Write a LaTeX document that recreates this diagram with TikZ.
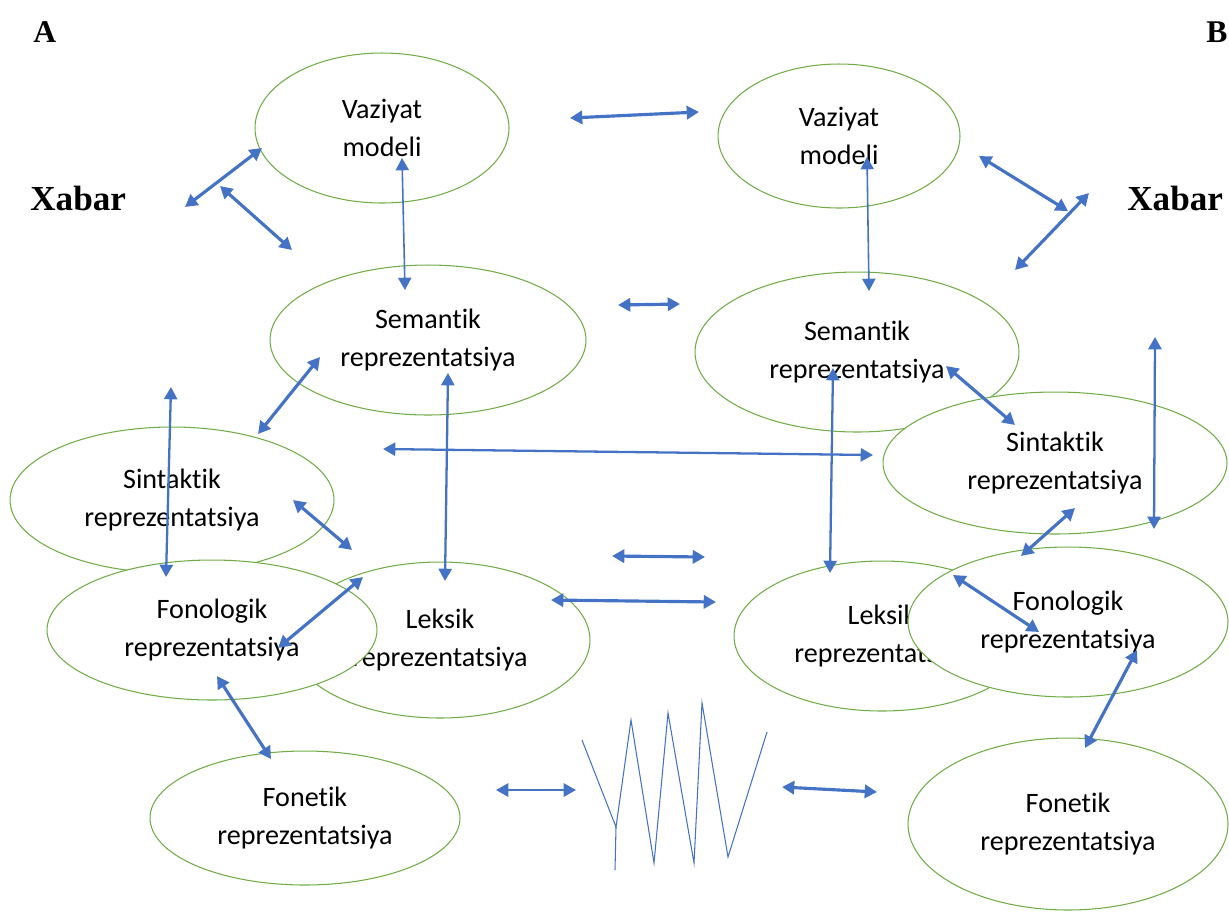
\documentclass[tikz,border=0pt]{standalone}
\usepackage{fontspec}
\setmainfont{Carlito}[Ligatures=NoCommon]
\newfontfamily\headfont{Liberation Serif}
\usetikzlibrary{arrows.meta,shapes.geometric}

\definecolor{ringgreen}{RGB}{112,173,71}
\definecolor{arrowblue}{RGB}{68,114,196}

\tikzset{
  stage/.style args={#1/#2}{ellipse, draw=ringgreen, line width=0.6pt, fill=white,
    minimum width=#1cm, minimum height=#2cm, inner sep=0pt, align=center,
    font=\fontsize{16}{21.5}\selectfont},
  head/.style={anchor=west, inner sep=0pt, font=\headfont\bfseries\fontsize{20}{24}\selectfont},
  link/.style={draw=arrowblue, line width=1.8pt,
    {Triangle[length=7pt,width=7.5pt]}-{Triangle[length=7pt,width=7.5pt]}},
  midlink/.style={link, line width=1.3pt},
  thinlink/.style={link, line width=0.9pt},
}

\begin{document}
\begin{tikzpicture}[x=0.02cm,y=-0.02cm]
  \useasboundingbox (0,0) rectangle (1229,914);

  % model A
  \node [stage=6.32/3.0] (semA) at (428,340) {Semantik\\reprezentatsiya};
  \node [stage=5.08/3.0] (vazA) at (382,128) {Vaziyat\\modeli};
  \node [stage=6.48/2.92] (sinA) at (172,500) {Sintaktik\\reprezentatsiya};
  \node [stage=6.0/3.12] (leksA) at (440,640) {Leksik\\reprezentatsiya};
  \node [stage=6.6/2.8] (fonolA) at (212,630) {Fonologik\\reprezentatsiya};
  \node [stage=6.2/2.68] (fonetA) at (305,818) {Fonetik\\reprezentatsiya};

  % model B
  \node [stage=4.84/2.88] (vazB) at (839,136) {Vaziyat\\modeli};
  \node [stage=6.48/3.2] (semB) at (857,352) {Semantik\\reprezentatsiya};
  \node [stage=6.88/2.84] (sinB) at (1055,463) {Sintaktik\\reprezentatsiya};
  \node [stage=5.92/3.0] (leksB) at (882,636) {Leksik\\reprezentatsiya};
  \node [stage=6.4/3.0] (fonolB) at (1068,622) {Fonologik\\reprezentatsiya};
  \node [stage=6.4/3.44] (fonetB) at (1068,824) {Fonetik\\reprezentatsiya};

  \node [head, font=\headfont\bfseries\fontsize{18}{22}\selectfont] (labA) at (33,32) {A};
  \node [head, font=\headfont\bfseries\fontsize{18}{22}\selectfont] (labB) at (1206,32) {B};
  \node [head] (xabA) at (30,198) {Xabar};
  \node [head] (xabB) at (1127,198) {Xabar};

  % arrow ends
  \coordinate (a1) at (185,207);
  \coordinate (a2) at (262,148);
  \coordinate (a3) at (220,186);
  \coordinate (a4) at (292,250);
  \coordinate (a5) at (402,158);
  \coordinate (a6) at (405,290);
  \coordinate (a7) at (320,357);
  \coordinate (a8) at (258,434);
  \coordinate (a9) at (171,387);
  \coordinate (a10) at (166,577);
  \coordinate (a11) at (448,373);
  \coordinate (a12) at (445,581);
  \coordinate (a13) at (383,449);
  \coordinate (a14) at (873,455);
  \coordinate (a15) at (293,500);
  \coordinate (a16) at (352,550);
  \coordinate (a17) at (278,648);
  \coordinate (a18) at (363,577);
  \coordinate (a19) at (217,676);
  \coordinate (a20) at (271,759);
  \coordinate (a21) at (551,600);
  \coordinate (a22) at (716,602);
  \coordinate (m1) at (570,118);
  \coordinate (m2) at (699,112);
  \coordinate (m3) at (618,305);
  \coordinate (m4) at (680,304);
  \coordinate (m5) at (612,556);
  \coordinate (m6) at (705,557);
  \coordinate (m7) at (496,790);
  \coordinate (m8) at (576,790);
  \coordinate (m9) at (782,787);
  \coordinate (m10) at (877,792);
  \coordinate (b1) at (867,157);
  \coordinate (b2) at (869,291);
  \coordinate (b3) at (979,156);
  \coordinate (b4) at (1068,211);
  \coordinate (b5) at (1089,193);
  \coordinate (b6) at (1015,270);
  \coordinate (b7) at (833,368);
  \coordinate (b8) at (830,573);
  \coordinate (b9) at (946,366);
  \coordinate (b10) at (1015,425);
  \coordinate (b11) at (1155,337);
  \coordinate (b12) at (1154,529);
  \coordinate (b13) at (1075,508);
  \coordinate (b14) at (1021,556);
  \coordinate (b15) at (953,575);
  \coordinate (b16) at (1039,632);
  \coordinate (b17) at (1137,650);
  \coordinate (b18) at (1085,748);

  \draw [link] (a1) -- (a2);
  \draw [link] (a3) -- (a4);
  \draw [thinlink] (a5) -- (a6);
  \draw [link] (a7) -- (a8);
  \draw [midlink] (a9) -- (a10);
  \draw [midlink] (a11) -- (a12);
  \draw [midlink] (a13) -- (a14);
  \draw [link] (a15) -- (a16);
  \draw [link] (a17) -- (a18);
  \draw [link] (a19) -- (a20);
  \draw [link] (a21) -- (a22);
  \draw [link] (m1) -- (m2);
  \draw [link] (m3) -- (m4);
  \draw [link] (m5) -- (m6);
  \draw [midlink] (m7) -- (m8);
  \draw [link] (m9) -- (m10);
  \draw [thinlink] (b1) -- (b2);
  \draw [link] (b3) -- (b4);
  \draw [link] (b5) -- (b6);
  \draw [midlink] (b7) -- (b8);
  \draw [link] (b9) -- (b10);
  \draw [midlink] (b11) -- (b12);
  \draw [link] (b13) -- (b14);
  \draw [link] (b15) -- (b16);
  \draw [link] (b17) -- (b18);

  % sound wave
  \draw [arrowblue, line width=0.6pt] (582,740) -- (616,827) -- (631,720) -- (654,863)
    -- (668,713) -- (694,863) -- (702,703) -- (728,857) -- (767,732);
  \draw [arrowblue, line width=0.6pt] (616,827) -- (615,870);
\end{tikzpicture}
\end{document}
